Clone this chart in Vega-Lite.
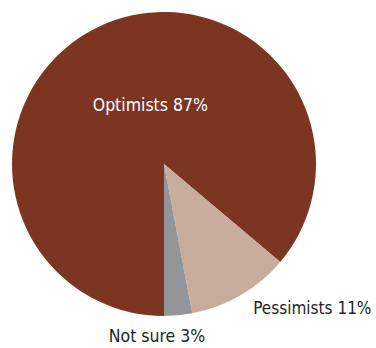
{
  "$schema": "https://vega.github.io/schema/vega-lite/v6.json",
  "width": 328,
  "height": 328,
  "padding": 0,
  "background": "white",
  "view": {"stroke": null},
  "data": {
    "values": [
      {"category": "Optimists", "value": 87, "label": "Optimists 87%", "order": 1},
      {"category": "Pessimists", "value": 11, "label": "Pessimists 11%", "order": 2},
      {"category": "Not sure", "value": 3, "label": "Not sure 3%", "order": 3}
    ]
  },
  "encoding": {
    "theta": {"field": "value", "type": "quantitative", "stack": true, "scale": {"range": [3.14159265, 9.42477796]}},
    "order": {"field": "order", "type": "quantitative"},
    "color": {
      "field": "category",
      "type": "nominal",
      "scale": {"domain": ["Optimists", "Pessimists", "Not sure"], "range": ["#7B3520", "#C8AD9C", "#939598"]},
      "legend": null
    }
  },
  "layer": [
    {"mark": {"type": "arc", "outerRadius": 152}},
    {
      "mark": {"type": "text", "radius": 62, "dx": 12.5, "dy": -2, "align": "center", "baseline": "middle", "font": "DejaVu Sans Condensed, DejaVu Sans, sans-serif", "fontSize": 17.5},
      "encoding": {
        "text": {"condition": {"test": "datum.category === 'Optimists'", "field": "label"}, "value": ""},
        "color": {"value": "#ffffff"}
      }
    },
    {
      "mark": {"type": "text", "radius": 167, "dx": 5, "dy": 1, "align": "left", "baseline": "middle", "font": "DejaVu Sans Condensed, DejaVu Sans, sans-serif", "fontSize": 17},
      "encoding": {
        "text": {"condition": {"test": "datum.category === 'Pessimists'", "field": "label"}, "value": ""},
        "color": {"value": "#231F20"}
      }
    },
    {
      "mark": {"type": "text", "radius": 172, "dx": -23, "dy": 2, "align": "center", "baseline": "middle", "font": "DejaVu Sans Condensed, DejaVu Sans, sans-serif", "fontSize": 17.5},
      "encoding": {
        "text": {"condition": {"test": "datum.category === 'Not sure'", "field": "label"}, "value": ""},
        "color": {"value": "#231F20"}
      }
    }
  ]
}
